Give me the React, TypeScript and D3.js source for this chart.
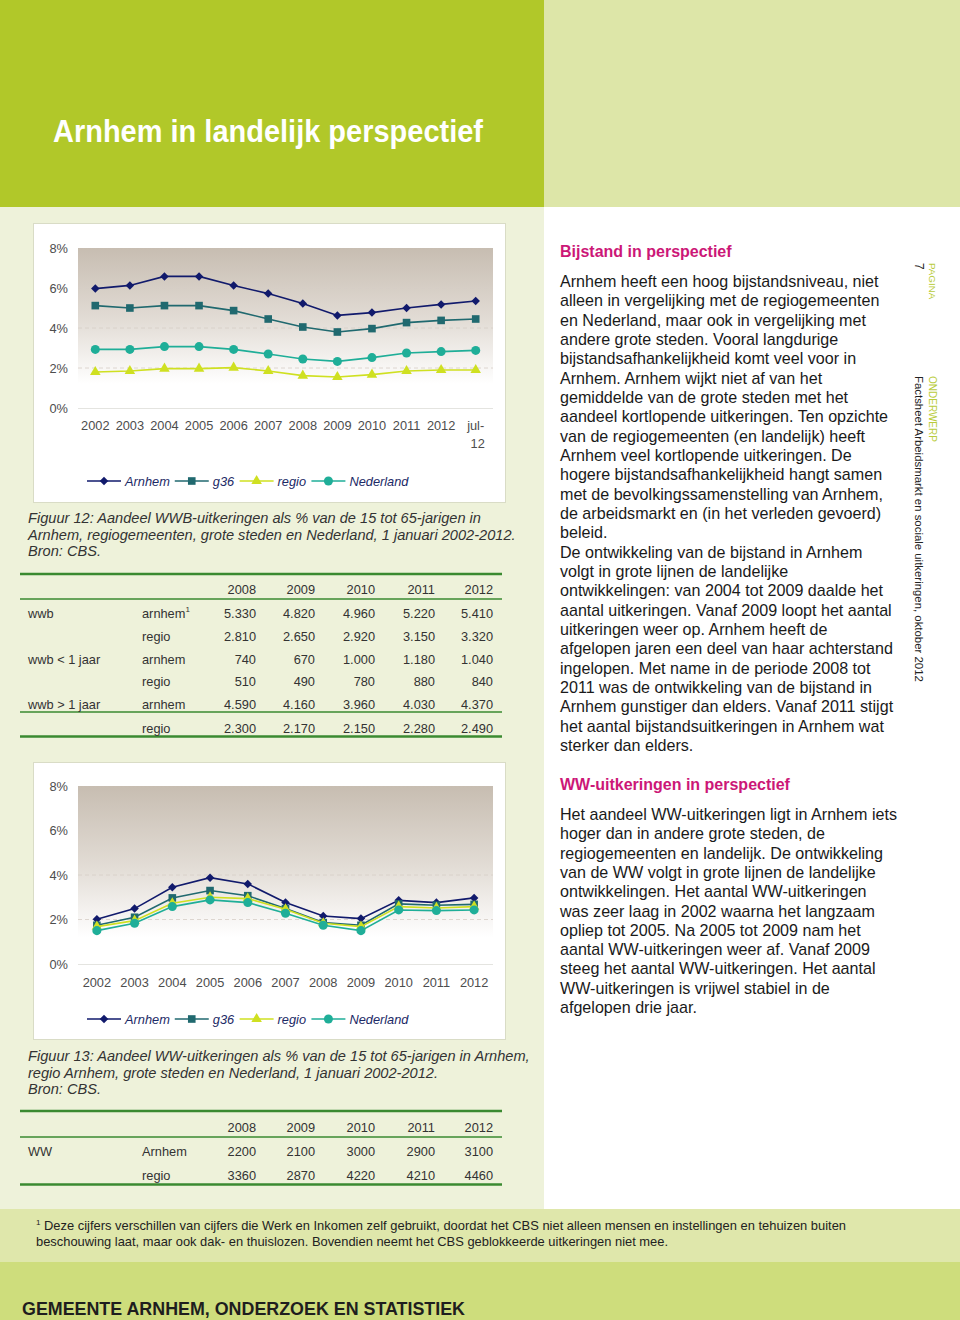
import React, { useEffect } from "react";
import * as d3 from "d3";

const FONT = "'Liberation Sans', Arial, Helvetica, sans-serif";
const NARROW = "'Liberation Sans Narrow', 'Arial Narrow', 'Liberation Sans', Arial, sans-serif";

// ---------- Figure 12 (WWB) ----------
const wwbCategories = ["2002", "2003", "2004", "2005", "2006", "2007", "2008", "2009", "2010", "2011", "2012", "jul-12"];
const wwbArnhem = [5.97, 6.13, 6.58, 6.58, 6.13, 5.72, 5.23, 4.63, 4.77, 5.0, 5.18, 5.35];
const wwbG36 = [5.12, 5.0, 5.12, 5.12, 4.87, 4.45, 4.05, 3.8, 3.97, 4.27, 4.38, 4.45];
const wwbRegio = [1.8, 1.85, 1.97, 1.97, 2.02, 1.85, 1.62, 1.55, 1.67, 1.85, 1.9, 1.9];
const wwbNederland = [2.93, 2.93, 3.07, 3.07, 2.93, 2.7, 2.45, 2.33, 2.52, 2.75, 2.82, 2.88];

// ---------- Figure 13 (WW) ----------
const wwCategories = ["2002", "2003", "2004", "2005", "2006", "2007", "2008", "2009", "2010", "2011", "2012"];
const wwArnhem = [2.01, 2.49, 3.45, 3.88, 3.6, 2.76, 2.16, 2.04, 2.86, 2.76, 2.97];
const wwG36 = [1.74, 2.1, 2.97, 3.3, 3.07, 2.49, 1.86, 1.74, 2.7, 2.64, 2.68];
const wwRegio = [1.68, 1.95, 2.73, 3.0, 2.94, 2.46, 1.83, 1.68, 2.58, 2.52, 2.58];
const wwNederland = [1.5, 1.83, 2.58, 2.88, 2.76, 2.28, 1.74, 1.5, 2.43, 2.4, 2.43];

const seriesNames = ["Arnhem", "g36", "regio", "Nederland"];
const seriesColors = ["#111a6c", "#20696f", "#cfe021", "#1fae98"];
const seriesSymbols = ["diamond", "square", "triangle", "circle"];
const yTicks = [0, 2, 4, 6, 8];

// ---------- Tables ----------
const tableYears = ["2008", "2009", "2010", "2011", "2012"];
const wwbGroupLabels = ["wwb", "", "wwb < 1 jaar", "", "wwb > 1 jaar", ""];
const wwbRowLabels = ["arnhem", "regio", "arnhem", "regio", "arnhem", "regio"];
const wwbRowSup = ["1", "", "", "", "", ""];
const wwbTableValues = [
  [5330, 4820, 4960, 5220, 5410],
  [2810, 2650, 2920, 3150, 3320],
  [740, 670, 1000, 1180, 1040],
  [510, 490, 780, 880, 840],
  [4590, 4160, 3960, 4030, 4370],
  [2300, 2170, 2150, 2280, 2490],
];
const wwGroupLabels = ["WW", ""];
const wwRowLabels = ["Arnhem", "regio"];
const wwRowSup = ["", ""];
const wwTableValues = [
  [2200, 2100, 3000, 2900, 3100],
  [3360, 2870, 4220, 4210, 4460],
];

// ---------- Texts ----------
const pageTitle = "Arnhem in landelijk perspectief";
const caption12 = [
  "Figuur 12: Aandeel WWB-uitkeringen als % van de 15 tot 65-jarigen in",
  "Arnhem, regiogemeenten, grote steden en Nederland, 1 januari 2002-2012.",
  "Bron: CBS.",
];
const caption13 = [
  "Figuur 13: Aandeel WW-uitkeringen als % van de 15 tot 65-jarigen in Arnhem,",
  "regio Arnhem, grote steden en Nederland, 1 januari 2002-2012.",
  "Bron: CBS.",
];
const heading1 = "Bijstand in perspectief";
const body1 = [
  "Arnhem heeft een hoog bijstandsniveau, niet",
  "alleen in vergelijking met de regiogemeenten",
  "en Nederland, maar ook in vergelijking met",
  "andere grote steden. Vooral langdurige",
  "bijstandsafhankelijkheid komt veel voor in",
  "Arnhem. Arnhem wijkt niet af van het",
  "gemiddelde van de grote steden met het",
  "aandeel kortlopende uitkeringen. Ten opzichte",
  "van de regiogemeenten (en landelijk) heeft",
  "Arnhem veel kortlopende uitkeringen. De",
  "hogere bijstandsafhankelijkheid hangt samen",
  "met de bevolkingssamenstelling van Arnhem,",
  "de arbeidsmarkt en (in het verleden gevoerd)",
  "beleid.",
  "De ontwikkeling van de bijstand in Arnhem",
  "volgt in grote lijnen de landelijke",
  "ontwikkelingen: van 2004 tot 2009 daalde het",
  "aantal uitkeringen. Vanaf 2009 loopt het aantal",
  "uitkeringen weer op. Arnhem heeft de",
  "afgelopen jaren een deel van haar achterstand",
  "ingelopen. Met name in de periode 2008 tot",
  "2011 was de ontwikkeling van de bijstand in",
  "Arnhem gunstiger dan elders. Vanaf 2011 stijgt",
  "het aantal bijstandsuitkeringen in Arnhem wat",
  "sterker dan elders.",
];
const heading2 = "WW-uitkeringen in perspectief";
const body2 = [
  "Het aandeel WW-uitkeringen ligt in Arnhem iets",
  "hoger dan in andere grote steden, de",
  "regiogemeenten en landelijk. De ontwikkeling",
  "van de WW volgt in grote lijnen de landelijke",
  "ontwikkelingen. Het aantal WW-uitkeringen",
  "was zeer laag in 2002 waarna het langzaam",
  "opliep tot 2005. Na 2005 tot 2009 nam het",
  "aantal WW-uitkeringen weer af. Vanaf 2009",
  "steeg het aantal WW-uitkeringen. Het aantal",
  "WW-uitkeringen is vrijwel stabiel in de",
  "afgelopen drie jaar.",
];
const footnote = [
  "Deze cijfers verschillen van cijfers die Werk en Inkomen zelf gebruikt, doordat het CBS niet alleen mensen en instellingen en tehuizen buiten",
  "beschouwing laat, maar ook dak- en thuislozen. Bovendien neemt het CBS geblokkeerde uitkeringen niet mee.",
];
const footerText = "GEMEENTE ARNHEM, ONDERZOEK EN STATISTIEK";
const sideLabels = ["PAGINA", "7", "ONDERWERP", "Factsheet Arbeidsmarkt en sociale uitkeringen, oktober 2012"];

// ---------- helpers ----------
let measureCtx: CanvasRenderingContext2D | null = null;
function textWidth(s: string, font: string): number {
  if (!measureCtx) measureCtx = document.createElement("canvas").getContext("2d");
  if (!measureCtx) return s.length * 6;
  measureCtx.font = font;
  return measureCtx.measureText(s).width;
}

function symbolPath(kind: string): string {
  const map: Record<string, [any, number]> = {
    diamond: [d3.symbolSquare, 36],
    square: [d3.symbolSquare, 58],
    triangle: [d3.symbolTriangle, 48],
    circle: [d3.symbolCircle, 64],
  };
  const [t, s] = map[kind];
  return d3.symbol().type(t).size(s)() || "";
}

type Rect = { x: number; y: number; w: number; h: number };

function LineChart(props: {
  id: string;
  box: Rect;
  plot: Rect;
  categories: string[];
  series: number[][];
  labelY: number;
  legendY: number;
}) {
  const { id, box, plot, categories, series, labelY, legendY } = props;
  const x = d3.scalePoint<string>().domain(categories).range([plot.x, plot.x + plot.w]).padding(0.5);
  const y = d3.scaleLinear().domain([0, 8]).range([plot.y + plot.h, plot.y]);
  const line = d3
    .line<number>()
    .x((_, i) => x(categories[i]) as number)
    .y((d) => y(d));

  const legendFont = `italic 12.5px ${FONT}`;
  let lx = 87;
  const legendItems = seriesNames.map((name, i) => {
    const item = { x: lx, name, i };
    lx += 34 + 5 + textWidth(name, legendFont) + 5;
    return item;
  });

  return (
    <g>
      <defs>
        <linearGradient id={id + "-bg"} x1="0" y1="0" x2="0" y2="1">
          <stop offset="0%" stopColor="#c7bdb1" />
          <stop offset="45%" stopColor="#e2dcd5" />
          <stop offset="85%" stopColor="#ffffff" />
          <stop offset="100%" stopColor="#ffffff" />
        </linearGradient>
      </defs>
      <rect x={box.x + 0.5} y={box.y + 0.5} width={box.w} height={box.h} fill="#ffffff" stroke="#d9dcc6" strokeWidth={1} />
      <rect x={plot.x} y={plot.y} width={plot.w} height={plot.h} fill={`url(#${id}-bg)`} />
      {yTicks
        .filter((t) => t > 0 && t < 8)
        .map((t) => (
          <line key={t} x1={plot.x} x2={plot.x + plot.w} y1={y(t)} y2={y(t)} stroke="#d6cec6" strokeWidth={0.8} strokeDasharray="4 3" />
        ))}
      <line x1={plot.x} x2={plot.x + plot.w} y1={y(0) + 0.5} y2={y(0) + 0.5} stroke="#e4e4e0" strokeWidth={1} />
      {yTicks.map((t) => (
        <text key={t} x={68} y={y(t) + 4.5} textAnchor="end" fontFamily={FONT} fontSize={12.8} fill="#4d4d4d">
          {`${t}%`}
        </text>
      ))}
      {categories.map((c) => {
        const parts = c.includes("-") ? [c.slice(0, c.indexOf("-") + 1), c.slice(c.indexOf("-") + 1)] : [c];
        return (
          <text key={c} x={x(c)} y={labelY} textAnchor="middle" fontFamily={FONT} fontSize={12.8} fill="#4d4d4d">
            {parts.map((p, k) => (
              <tspan key={k} x={(x(c) as number) + (k === 1 ? 2 : 0)} dy={k === 0 ? 0 : 18}>
                {p}
              </tspan>
            ))}
          </text>
        );
      })}
      {series.map((vals, i) => (
        <g key={i}>
          <path d={line(vals) || ""} fill="none" stroke={seriesColors[i]} strokeWidth={1.6} />
          {vals.map((v, j) => (
            <path
              key={j}
              d={symbolPath(seriesSymbols[i])}
              transform={`translate(${x(categories[j])},${y(v)})${seriesSymbols[i] === "diamond" ? " rotate(45)" : ""}`}
              fill={seriesColors[i]}
            />
          ))}
        </g>
      ))}
      {legendItems.map((it) => (
        <g key={it.name}>
          <line x1={it.x} x2={it.x + 34} y1={legendY} y2={legendY} stroke={seriesColors[it.i]} strokeWidth={1.6} />
          <path
            d={symbolPath(seriesSymbols[it.i])}
            transform={`translate(${it.x + 17},${legendY})${seriesSymbols[it.i] === "diamond" ? " rotate(45)" : ""}`}
            fill={seriesColors[it.i]}
          />
          <text x={it.x + 38} y={legendY + 4.5} fontFamily={FONT} fontStyle="italic" fontSize={12.8} fill="#1c2a66">
            {it.name}
          </text>
        </g>
      ))}
    </g>
  );
}

const nlFormat = d3.formatLocale({ decimal: ",", thousands: ".", grouping: [3], currency: ["€", ""] }).format(",d");
const plainFormat = d3.format("d");

function DataTable(props: {
  headerBase: number;
  rowBases: number[];
  groups: string[];
  labels: string[];
  sups: string[];
  values: number[][];
  fmt: (n: number) => string;
  rules: [number, number][];
}) {
  const { headerBase, rowBases, groups, labels, sups, values, fmt, rules } = props;
  const colRight = [256, 315, 375, 435, 493];
  return (
    <g fontFamily={FONT} fontSize={12.8} fill="#333">
      {rules.map(([yy, w], k) => (
        <line key={k} x1={20} x2={502} y1={yy} y2={yy} stroke="#3a8a30" strokeWidth={w} />
      ))}
      {tableYears.map((yr, k) => (
        <text key={yr} x={colRight[k]} y={headerBase} textAnchor="end">
          {yr}
        </text>
      ))}
      {values.map((row, r) => (
        <g key={r}>
          {groups[r] && (
            <text x={28} y={rowBases[r]}>
              {groups[r]}
            </text>
          )}
          <text x={142} y={rowBases[r]}>
            {labels[r]}
            {sups[r] && (
              <tspan dy={-6} fontSize={8}>
                {sups[r]}
              </tspan>
            )}
          </text>
          {row.map((v, k) => (
            <text key={k} x={colRight[k]} y={rowBases[r]} textAnchor="end">
              {fmt(v)}
            </text>
          ))}
        </g>
      ))}
    </g>
  );
}

export default function App() {
  useEffect(() => {
    document.body.style.margin = "0";
  }, []);

  return (
    <svg width={960} height={1320} viewBox="0 0 960 1320" style={{ display: "block", position: "absolute", left: 0, top: 0 }}>
      {/* backgrounds */}
      <rect x={0} y={0} width={960} height={1320} fill="#ffffff" />
      <rect x={0} y={0} width={544} height={207} fill="#b1c829" />
      <rect x={544} y={0} width={416} height={207} fill="#dde6a8" />
      <rect x={0} y={207} width={544} height={1002} fill="#eef2da" />
      <rect x={0} y={1209} width={960} height={53} fill="#dfe7ab" />
      <rect x={0} y={1262} width={960} height={58} fill="#cedd7c" />

      {/* title */}
      <text
        x={53}
        y={142}
        fontFamily={NARROW}
        fontWeight="bold"
        fontSize={32}
        fill="#ffffff"
        textLength={430}
        lengthAdjust="spacingAndGlyphs"
      >
        {pageTitle}
      </text>

      {/* Figure 12 */}
      <LineChart
        id="c1"
        box={{ x: 33, y: 223, w: 472, h: 279 }}
        plot={{ x: 78, y: 248, w: 415, h: 160 }}
        categories={wwbCategories}
        series={[wwbArnhem, wwbG36, wwbRegio, wwbNederland]}
        labelY={430}
        legendY={481}
      />
      <g fontFamily={FONT} fontStyle="italic" fontSize={14.6} fill="#333">
        {caption12.map((l, i) => (
          <text key={i} x={28} y={523 + i * 16.5}>
            {l}
          </text>
        ))}
      </g>
      <DataTable
        headerBase={594}
        rowBases={[618, 641, 664, 686, 709, 733]}
        groups={wwbGroupLabels}
        labels={wwbRowLabels}
        sups={wwbRowSup}
        values={wwbTableValues}
        fmt={nlFormat}
        rules={[
          [574, 2.5],
          [599, 1.5],
          [712, 1.5],
          [736.5, 2.5],
        ]}
      />

      {/* Figure 13 */}
      <LineChart
        id="c2"
        box={{ x: 33, y: 762, w: 472, h: 277 }}
        plot={{ x: 78, y: 786, w: 415, h: 178 }}
        categories={wwCategories}
        series={[wwArnhem, wwG36, wwRegio, wwNederland]}
        labelY={987}
        legendY={1019}
      />
      <g fontFamily={FONT} fontStyle="italic" fontSize={14.6} fill="#333">
        {caption13.map((l, i) => (
          <text key={i} x={28} y={1061 + i * 16.5}>
            {l}
          </text>
        ))}
      </g>
      <DataTable
        headerBase={1132}
        rowBases={[1156, 1180]}
        groups={wwGroupLabels}
        labels={wwRowLabels}
        sups={wwRowSup}
        values={wwTableValues}
        fmt={plainFormat}
        rules={[
          [1111, 2.5],
          [1137, 1.5],
          [1184.5, 2.5],
        ]}
      />

      {/* right column text */}
      <text x={560} y={257} fontFamily={FONT} fontWeight="bold" fontSize={16} fill="#cc1777">
        {heading1}
      </text>
      <g fontFamily={FONT} fontSize={16.1} fill="#1a1a1a">
        {body1.map((l, i) => (
          <text key={i} x={560} y={287 + i * 19.33}>
            {l}
          </text>
        ))}
      </g>
      <text x={560} y={790} fontFamily={FONT} fontWeight="bold" fontSize={16} fill="#cc1777">
        {heading2}
      </text>
      <g fontFamily={FONT} fontSize={16.1} fill="#1a1a1a">
        {body2.map((l, i) => (
          <text key={i} x={560} y={820 + i * 19.3}>
            {l}
          </text>
        ))}
      </g>

      {/* vertical side labels */}
      <text transform="translate(929,263) rotate(90)" fontFamily={FONT} fontSize={9.8} fill="#b9cc3c">
        {sideLabels[0]}
      </text>
      <text transform="translate(915,263) rotate(90)" fontFamily={FONT} fontSize={12} fill="#222">
        {sideLabels[1]}
      </text>
      <text transform="translate(929,376) rotate(90)" fontFamily={FONT} fontSize={10} fill="#b9cc3c">
        {sideLabels[2]}
      </text>
      <text transform="translate(915,376) rotate(90)" fontFamily={FONT} fontSize={11.4} fill="#222">
        {sideLabels[3]}
      </text>

      {/* footnote */}
      <g fontFamily={FONT} fontSize={12.9} fill="#222">
        <text x={36} y={1225} fontSize={8}>
          1
        </text>
        <text x={44} y={1230} textLength={802} lengthAdjust="spacingAndGlyphs">
          {footnote[0]}
        </text>
        <text x={36} y={1246}>
          {footnote[1]}
        </text>
      </g>

      {/* footer */}
      <text
        x={22}
        y={1315}
        fontFamily={NARROW}
        fontWeight="bold"
        fontSize={19}
        fill="#1e1e1e"
        textLength={443}
        lengthAdjust="spacingAndGlyphs"
      >
        {footerText}
      </text>
    </svg>
  );
}
